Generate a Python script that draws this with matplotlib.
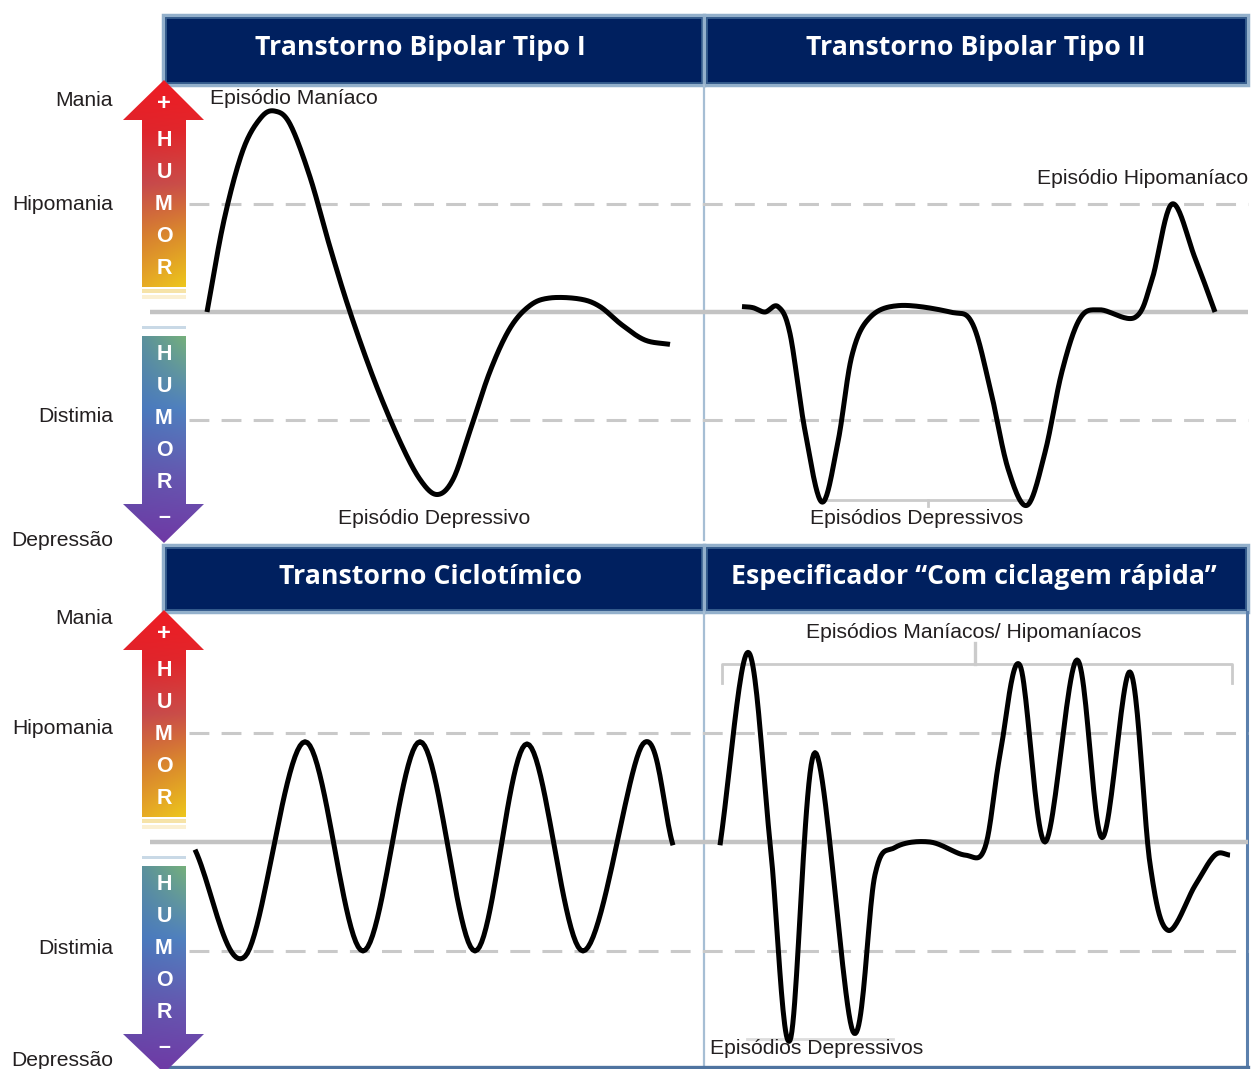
import numpy as np
import matplotlib
matplotlib.use("Agg")
import matplotlib.pyplot as plt
from matplotlib.patches import Polygon, Rectangle

W, H = 1251, 1069

# níveis de humor: 2 mania, 1 hipomania, 0 eutimia, -1 distimia, -2 depressão
level_names = ['Mania', 'Hipomania', 'Distimia', 'Depressão']
headers = [['Transtorno Bipolar Tipo I', 'Transtorno Bipolar Tipo II'],
           ['Transtorno Ciclotímico', 'Especificador “Com ciclagem rápida”']]

# curvas (x = tempo em px da figura, y = humor)
tipo1_x = [207, 224, 243, 261, 275, 290, 310, 330, 350, 375, 400, 420, 437, 453, 470, 490, 510, 530, 550, 580, 600, 622, 645, 670]
tipo1_y = [0.0, 0.85, 1.5, 1.8, 1.86, 1.74, 1.25, 0.6, 0.0, -0.65, -1.2, -1.55, -1.69, -1.55, -1.1, -0.55, -0.15, 0.06, 0.13, 0.12, 0.05, -0.12, -0.26, -0.3]

tipo2_x = [742, 753, 765, 778, 790, 805, 822, 838, 852, 870, 900, 950, 972, 990, 1008, 1027, 1045, 1062, 1080, 1100, 1135, 1152, 1172, 1195, 1215]
tipo2_y = [0.05, 0.04, 0.0, 0.05, -0.2, -1.1, -1.76, -1.2, -0.4, -0.05, 0.06, 0.0, -0.1, -0.7, -1.45, -1.79, -1.3, -0.55, -0.06, 0.02, -0.05, 0.3, 1.0, 0.5, 0.0]

cyclo_x = [195, 245, 305, 363, 420, 475, 527, 583, 643, 673]
cyclo_y = [-0.07, -1.05, 0.92, -1.0, 0.92, -1.0, 0.9, -1.0, 0.9, -0.03]

rapid_x = [720, 748, 770, 790, 815, 853, 875, 895, 930, 965, 985, 1000, 1020, 1045, 1077, 1102, 1130, 1150, 1168, 1195, 1215, 1230]
rapid_y = [-0.03, 1.74, 0.0, -1.82, 0.82, -1.74, -0.3, -0.05, 0.0, -0.12, -0.05, 0.8, 1.62, 0.0, 1.67, 0.04, 1.56, -0.2, -0.81, -0.4, -0.12, -0.12]


def smooth(xs, ys, n=24):
    # Catmull-Rom só para desenhar a curva suave entre os pontos lidos
    p = np.column_stack([xs, ys]).astype(float)
    p = np.vstack([2 * p[0] - p[1], p, 2 * p[-1] - p[-2]])
    out = []
    t = np.linspace(0, 1, n, endpoint=False)[:, None]
    for i in range(1, len(p) - 2):
        p0, p1, p2, p3 = p[i - 1], p[i], p[i + 1], p[i + 2]
        c = 0.5 * ((2 * p1) + (-p0 + p2) * t + (2 * p0 - 5 * p1 + 4 * p2 - p3) * t ** 2
                   + (-p0 + 3 * p1 - 3 * p2 + p3) * t ** 3)
        out.append(c)
    out.append(p[-2][None, :])
    out = np.vstack(out)
    return out[:, 0], out[:, 1]


fig = plt.figure(figsize=(W / 100, H / 100), dpi=100)
plt.rcParams['font.family'] = ['Liberation Sans', 'DejaVu Sans']

ov = fig.add_axes([0, 0, 1, 1])
ov.set_xlim(0, W)
ov.set_ylim(H, 0)
ov.axis('off')

rows = [dict(top=85, bottom=540, base=312, unit=108, hdr=(15, 85)),
        dict(top=612, bottom=1066, base=842, unit=109, hdr=(545, 612))]

row_axes = []
for r in rows:
    a = fig.add_axes([0, 1 - r['bottom'] / H, 1, (r['bottom'] - r['top']) / H], zorder=3)
    a.set_xlim(0, W)
    a.set_ylim(-(r['bottom'] - r['base']) / r['unit'], (r['base'] - r['top']) / r['unit'])
    a.axis('off')
    a.patch.set_alpha(0)
    row_axes.append(a)

navy = '#00205F'
edge_light = '#93B0CB'
edge_dark = '#3D6593'
gray_line = '#C3C3C3'
text_col = '#231F20'
fs = 15.2

# cabeçalhos
for r, names in zip(rows, headers):
    y0, y1 = r['hdr']
    for (x0, x1), name in zip([(163, 704), (704, 1248)], names):
        ov.add_patch(Rectangle((x0, y0), x1 - x0, y1 - y0, facecolor=navy,
                               edgecolor=edge_light, lw=2.5, zorder=2))
        ov.add_patch(Rectangle((x0 + 2.5, y0 + 2.5), x1 - x0 - 5, y1 - y0 - 5, facecolor='none',
                               edgecolor=edge_dark, lw=1.2, zorder=2))
    yc = (y0 + y1) / 2 - 2
    ov.text(420 if names[0].endswith('I') else 431, yc, names[0], color='white',
            fontsize=19.3, fontweight='bold', family=['Open Sans', 'DejaVu Sans'],
            ha='center', va='center', zorder=3)
    ov.text(976 if names[1].endswith('II') else 974, yc, names[1], color='white',
            fontsize=19.3, fontweight='bold', family=['Open Sans', 'DejaVu Sans'],
            ha='center', va='center', zorder=3)

# molduras
ov.plot([704, 704], [85, 540], color='#A6BED4', lw=1.6, zorder=2)
ov.plot([704, 704], [612, 1066], color='#A6BED4', lw=1.6, zorder=2)
ov.plot([1246.5, 1246.5], [612, 1066], color='#5B80AD', lw=2.2, zorder=2)
ov.plot([163, 1248], [1066.5, 1066.5], color='#4F74A0', lw=2.4, zorder=2)

# linhas de referência
for a, r in zip(row_axes, rows):
    a.hlines(0, 150, 1248, color=gray_line, lw=3.2, zorder=1)
    for lv in (1, -1):
        a.hlines(lv, 189, 1248, color='#C9C9C9', lw=2.2, linestyles=(0, (6.5, 4)), zorder=1)

# rótulos de nível à esquerda
label_y = [[100, 204, 416, 541], [618, 728, 948, 1060]]
for ys in label_y:
    for name, y in zip(level_names, ys):
        ov.text(113, y, name, ha='right', va='center', fontsize=fs, color=text_col)


# setas com gradiente
def grad_img(stops_left, stops_right, n=200):
    t = np.linspace(0, 1, n)
    def col(stops):
        pos = [s[0] for s in stops]
        return np.column_stack([np.interp(t, pos, [s[1][k] for s in stops]) for k in range(3)]) / 255
    cl, cr = col(stops_left), col(stops_right)
    s = np.linspace(0, 1, 40)[None, :, None]
    return cl[:, None, :] * (1 - s) + cr[:, None, :] * s


up_left = [(0, (238, 28, 36)), (0.25, (222, 36, 44)), (0.5, (196, 70, 78)), (0.75, (212, 118, 52)), (1, (228, 160, 40))]
up_right = [(0, (238, 28, 36)), (0.25, (226, 40, 44)), (0.5, (205, 80, 70)), (0.75, (222, 150, 40)), (1, (240, 210, 24))]
dn_left = [(0, (80, 132, 170)), (0.35, (72, 118, 188)), (0.7, (98, 82, 172)), (1, (110, 56, 164))]
dn_right = [(0, (128, 188, 110)), (0.35, (82, 132, 192)), (0.7, (104, 86, 176)), (1, (112, 58, 166))]

for r in rows:
    b = r['base']
    up = [(164, b - 232), (204, b - 192), (186, b - 192), (186, b - 25), (142, b - 25), (142, b - 192), (123, b - 192)]
    dn = [(142, b + 24), (186, b + 24), (186, b + 192), (204, b + 192), (164, b + 231), (123, b + 192), (142, b + 192)]
    for poly, sl, sr, ys in [(up, up_left, up_right, (b - 232, b - 25)), (dn, dn_left, dn_right, (b + 24, b + 231))]:
        pg = Polygon(poly, closed=True, facecolor='none', edgecolor='none')
        ov.add_patch(pg)
        im = ov.imshow(grad_img(sl, sr), extent=(123, 204, ys[1], ys[0]), aspect='auto', zorder=2,
                       interpolation='bilinear')
        im.set_clip_path(pg)
    # faixas claras junto à linha de base
    ov.add_patch(Rectangle((142, b - 23), 44, 4, facecolor='#F6E3A8', edgecolor='none', zorder=2))
    ov.add_patch(Rectangle((142, b - 17), 44, 4, facecolor='#FBF0D2', edgecolor='none', zorder=2))
    ov.add_patch(Rectangle((142, b + 14), 44, 3, facecolor='#C9D9E6', edgecolor='none', zorder=2))
    for ch, dy in zip(['+', 'H', 'U', 'M', 'O', 'R'], [-209, -171, -139, -107, -75, -43]):
        ov.text(164, b + dy, ch, color='white', fontsize=15.5 if ch != '+' else 17, fontweight='bold',
                ha='center', va='center', zorder=4)
    for ch, dy in zip(['H', 'U', 'M', 'O', 'R', '–'], [43, 75, 107, 139, 171, 206]):
        ov.text(164, b + dy, ch, color='white', fontsize=15.5, fontweight='bold',
                ha='center', va='center', zorder=4)

# curvas
for a, (xs, ys) in [(row_axes[0], (tipo1_x, tipo1_y)), (row_axes[0], (tipo2_x, tipo2_y)),
                    (row_axes[1], (cyclo_x, cyclo_y)), (row_axes[1], (rapid_x, rapid_y))]:
    sx, sy = smooth(xs, ys)
    a.plot(sx, sy, color='black', lw=3.6, solid_capstyle='butt', solid_joinstyle='round', zorder=5)

# chaves / colchetes
br = '#CBCBCB'
ov.plot([822, 1027], [500, 500], color=br, lw=2, zorder=3)
ov.plot([928, 928], [500, 506], color=br, lw=2, zorder=3)
ov.plot([722, 722, 1232, 1232], [683, 664, 664, 683], color=br, lw=2, zorder=3)
ov.plot([975, 975], [643, 664], color=br, lw=2.4, zorder=3)
ov.plot([747, 893], [1039, 1039], color='#DDDDDD', lw=2, zorder=3)

# anotações
ov.text(210, 98, 'Episódio Maníaco', fontsize=fs, color=text_col, ha='left', va='center', zorder=6)
ov.text(1248, 179, 'Episódio Hipomaníaco', fontsize=fs, color=text_col, ha='right', va='center', zorder=6)
ov.text(434, 518, 'Episódio Depressivo', fontsize=fs, color=text_col, ha='center', va='center', zorder=6)
ov.text(917, 518, 'Episódios Depressivos', fontsize=fs, color=text_col, ha='center', va='center', zorder=6)
ov.text(974, 632, 'Episódios Maníacos/ Hipomaníacos', fontsize=fs, color=text_col, ha='center', va='center', zorder=6)
ov.text(710, 1048, 'Episódios Depressivos', fontsize=fs, color=text_col, ha='left', va='center', zorder=6)

fig.savefig('out.png', dpi=100)
